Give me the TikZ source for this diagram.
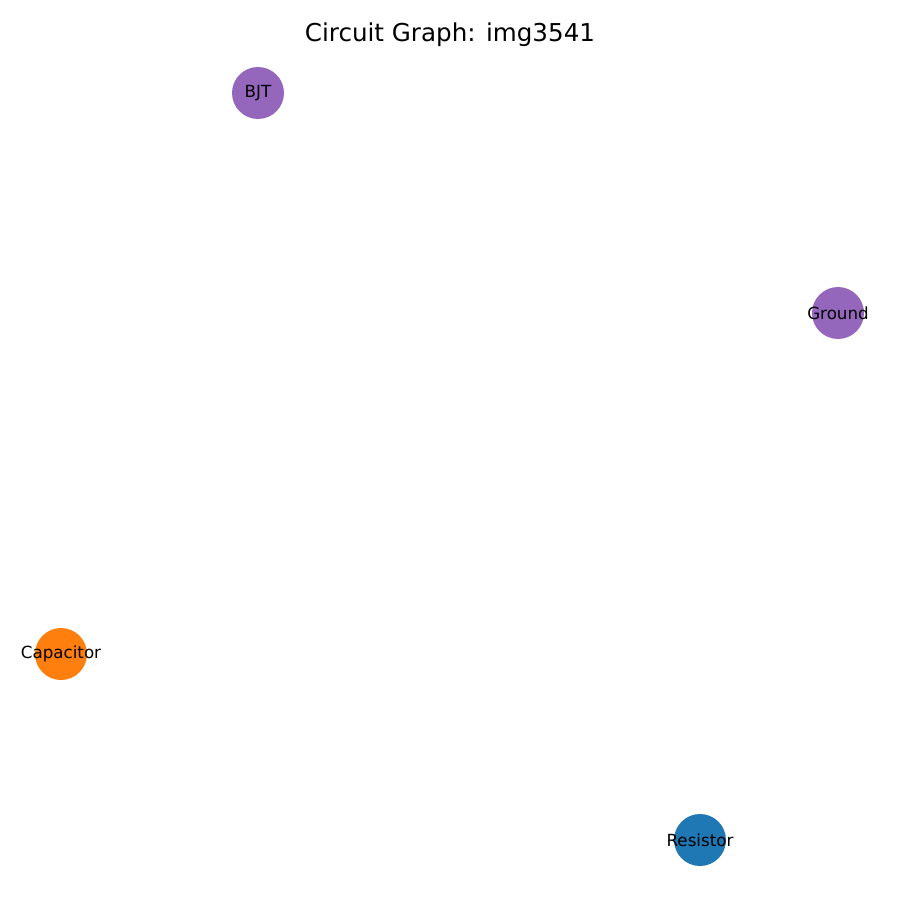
\documentclass[tikz,border=0pt]{standalone}
\usepackage{fontspec}
\setmainfont{DejaVu Sans}
\definecolor{nxpurple}{HTML}{9467BD}
\definecolor{nxorange}{HTML}{FF7F0E}
\definecolor{nxblue}{HTML}{1F77B4}
\tikzset{
    part/.style={circle, minimum size=1.04cm, inner sep=0pt, draw=none,
        label distance=0pt},
    partname/.style={font=\fontsize{9.5}{11}\selectfont, text=black, inner sep=0pt}
}
\begin{document}
\begin{tikzpicture}[x=0.02cm, y=-0.02cm]

            % Frame
            \useasboundingbox (0, 0) rectangle (900, 900);

            %% Title
            \node (title) at (450, 35) {\fontsize{14}{16}\selectfont Circuit Graph: img3541};

            %% Parts
            \node [part, fill=nxpurple] (bjt) at (258, 93) {};
            \node [part, fill=nxpurple] (ground) at (838, 313) {};
            \node [part, fill=nxorange] (capacitor) at (61, 654) {};
            \node [part, fill=nxblue] (resistor) at (700, 840) {};

            %% Names
            \node [partname] (bjtname) at (bjt.center) {BJT};
            \node [partname] (groundname) at (ground.center) {Ground};
            \node [partname] (capacitorname) at (capacitor.center) {Capacitor};
            \node [partname] (resistorname) at (resistor.center) {Resistor};
        \end{tikzpicture}
\end{document}
